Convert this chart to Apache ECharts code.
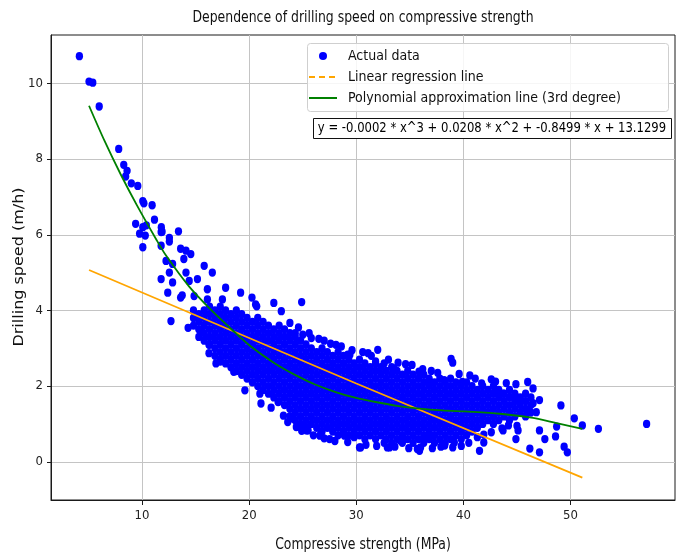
<!DOCTYPE html>
<html><head><meta charset="utf-8">
<script src="https://cdn.jsdelivr.net/npm/echarts@6/dist/echarts.min.js"></script>
<style>html,body{margin:0;padding:0;background:#fff}#c{width:678px;height:553px}</style>
</head><body><div id="c"></div><script>
// ---- data ----
const xTicks = [10, 20, 30, 40, 50];
const yTicks = [0, 2, 4, 6, 8, 10];

// isolated points, left / upper part of the cloud
const sparsePoints = [
[4.15,10.72],[5.05,10.05],[5.4,10.02],[6.0,9.39],[7.82,8.27],[8.29,7.85],[8.6,7.69],[8.47,7.54],[9.0,7.36],[9.6,7.29],
[10.07,6.89],[10.17,6.83],[10.94,6.78],[9.4,6.29],[10.07,6.2],[10.4,6.25],[11.16,6.4],[11.8,6.2],[11.87,6.08],[13.4,6.09],
[9.77,6.03],[10.3,5.98],[12.55,5.92],[11.78,6.07],[10.07,5.67],[11.78,5.71],[12.55,5.82],[13.6,5.63],[14.1,5.58],[14.55,5.49],
[13.9,5.36],[12.24,5.31],[12.85,5.23],[12.55,5.0],[15.8,5.18],[16.56,5.0],[14.1,5.0],[11.78,4.83],[12.85,4.74],[15.17,4.83],
[14.4,4.78],[12.4,4.47],[13.6,4.34],[13.75,4.4],[16.1,4.56],[17.8,4.6],[14.86,4.38],[16.1,4.29],[17.5,4.29],[19.2,4.47],
[20.26,4.34],[20.7,4.11],[20.6,4.16],[22.3,4.2],[23.0,3.98],[24.9,4.22],[23.8,3.67],[12.7,3.72],[14.3,3.54],[15.5,3.45],
[16.25,3.09],[16.25,2.87],[16.9,2.6],[17.3,2.65],[18.56,2.38],[19.6,1.89],[21.0,1.8],[21.1,1.54],[22.05,1.43],[22.7,1.58]
];

// dense core of the cloud: [strength, speed, speed, ...]
const coreColumns = [
[14.8,3.6,3.8,4.0],
[15.3,3.3,3.5,3.7,3.9],
[15.8,3.2,3.4,3.6,3.8,4.0],
[16.3,3.1,3.3,3.5,3.7,3.9,4.1],
[16.8,2.8,3.0,3.2,3.4,3.6,3.8,4.0],
[17.3,2.7,2.9,3.1,3.3,3.5,3.7,3.9,4.1],
[17.8,2.6,2.8,3.0,3.2,3.4,3.6,3.8,4.0],
[18.3,2.5,2.7,2.9,3.1,3.3,3.5,3.7,3.9],
[18.8,2.4,2.6,2.8,3.0,3.2,3.4,3.6,3.8,4.0],
[19.3,2.3,2.5,2.7,2.9,3.1,3.3,3.5,3.7,3.9],
[19.8,2.2,2.4,2.6,2.8,3.0,3.2,3.4,3.6,3.8],
[20.3,2.1,2.3,2.5,2.7,2.9,3.1,3.3,3.5,3.7],
[20.8,2.0,2.2,2.4,2.6,2.8,3.0,3.2,3.4,3.6,3.8],
[21.3,1.9,2.1,2.3,2.5,2.7,2.9,3.1,3.3,3.5,3.7],
[21.8,1.8,2.0,2.2,2.4,2.6,2.8,3.0,3.2,3.4,3.6],
[22.3,1.7,1.9,2.1,2.3,2.5,2.7,2.9,3.1,3.3,3.5],
[22.8,1.6,1.8,2.0,2.2,2.4,2.6,2.8,3.0,3.2,3.4,3.6],
[23.3,1.5,1.7,1.9,2.1,2.3,2.5,2.7,2.9,3.1,3.3,3.5],
[23.8,1.2,1.4,1.6,1.8,2.0,2.2,2.4,2.6,2.8,3.0,3.2,3.4],
[24.3,1.1,1.3,1.5,1.7,1.9,2.1,2.3,2.5,2.7,2.9,3.1,3.3],
[24.8,1.0,1.2,1.4,1.6,1.8,2.0,2.2,2.4,2.6,2.8,3.0,3.2],
[25.3,0.9,1.1,1.3,1.5,1.7,1.9,2.1,2.3,2.5,2.7,2.9,3.1],
[25.8,1.0,1.2,1.4,1.6,1.8,2.0,2.2,2.4,2.6,2.8,3.0],
[26.3,0.9,1.1,1.3,1.5,1.7,1.9,2.1,2.3,2.5,2.7,2.9],
[26.8,0.8,1.0,1.2,1.4,1.6,1.8,2.0,2.2,2.4,2.6,2.8,3.0],
[27.3,0.9,1.1,1.3,1.5,1.7,1.9,2.1,2.3,2.5,2.7,2.9],
[27.8,0.8,1.0,1.2,1.4,1.6,1.8,2.0,2.2,2.4,2.6,2.8],
[28.3,0.7,0.9,1.1,1.3,1.5,1.7,1.9,2.1,2.3,2.5,2.7,2.9],
[28.8,0.8,1.0,1.2,1.4,1.6,1.8,2.0,2.2,2.4,2.6,2.8],
[29.3,0.7,0.9,1.1,1.3,1.5,1.7,1.9,2.1,2.3,2.5,2.7],
[29.8,0.8,1.0,1.2,1.4,1.6,1.8,2.0,2.2,2.4,2.6],
[30.3,0.7,0.9,1.1,1.3,1.5,1.7,1.9,2.1,2.3,2.5,2.7],
[30.8,0.6,0.8,1.0,1.2,1.4,1.6,1.8,2.0,2.2,2.4,2.6],
[31.3,0.7,0.9,1.1,1.3,1.5,1.7,1.9,2.1,2.3,2.5],
[31.8,0.6,0.8,1.0,1.2,1.4,1.6,1.8,2.0,2.2,2.4,2.6],
[32.3,0.7,0.9,1.1,1.3,1.5,1.7,1.9,2.1,2.3,2.5],
[32.8,0.6,0.8,1.0,1.2,1.4,1.6,1.8,2.0,2.2,2.4],
[33.3,0.5,0.7,0.9,1.1,1.3,1.5,1.7,1.9,2.1,2.3,2.5],
[33.8,0.6,0.8,1.0,1.2,1.4,1.6,1.8,2.0,2.2,2.4],
[34.3,0.5,0.7,0.9,1.1,1.3,1.5,1.7,1.9,2.1,2.3],
[34.8,0.6,0.8,1.0,1.2,1.4,1.6,1.8,2.0,2.2,2.4],
[35.3,0.5,0.7,0.9,1.1,1.3,1.5,1.7,1.9,2.1,2.3],
[35.8,0.6,0.8,1.0,1.2,1.4,1.6,1.8,2.0,2.2],
[36.3,0.5,0.7,0.9,1.1,1.3,1.5,1.7,1.9,2.1,2.3],
[36.8,0.6,0.8,1.0,1.2,1.4,1.6,1.8,2.0,2.2],
[37.3,0.5,0.7,0.9,1.1,1.3,1.5,1.7,1.9,2.1],
[37.8,0.6,0.8,1.0,1.2,1.4,1.6,1.8,2.0,2.2],
[38.3,0.5,0.7,0.9,1.1,1.3,1.5,1.7,1.9,2.1],
[38.8,0.6,0.8,1.0,1.2,1.4,1.6,1.8,2.0,2.2],
[39.3,0.7,0.9,1.1,1.3,1.5,1.7,1.9,2.1],
[39.8,0.6,0.8,1.0,1.2,1.4,1.6,1.8,2.0],
[40.3,0.7,0.9,1.1,1.3,1.5,1.7,1.9,2.1],
[40.8,0.8,1.0,1.2,1.4,1.6,1.8,2.0],
[41.3,0.9,1.1,1.3,1.5,1.7,1.9],
[41.8,1.0,1.2,1.4,1.6,1.8,2.0],
[42.3,1.1,1.3,1.5,1.7,1.9],
[42.8,1.0,1.2,1.4,1.6,1.8,2.0],
[43.3,1.1,1.3,1.5,1.7,1.9],
[43.8,1.2,1.4,1.6,1.8],
[44.3,1.1,1.3,1.5,1.7,1.9],
[44.8,1.2,1.4,1.6,1.8],
[45.3,1.3,1.5,1.7],
[45.8,1.2,1.4,1.6,1.8],
[46.3,1.3,1.5,1.7]
];

// points sticking out above the core
const edgeUpper = [
[24.3,3.4],[25.0,3.36],[25.8,3.27],[28.1,3.09],[29.2,2.83],[29.4,2.83],[31.1,2.87],[32.0,2.96],[31.8,2.65],[32.6,2.6],
[33.5,2.47],[35.2,2.56],[35.85,2.38],[36.9,2.07],[38.2,2.16],[38.85,2.72],[39.0,2.62],[39.9,2.11],[24.6,3.55],[25.6,3.4],
[26.5,3.25],[27.0,3.2],[27.6,3.12],[28.6,3.05],[29.6,2.95],[30.6,2.9],[31.4,2.8],[33.0,2.7],[33.9,2.62],[34.6,2.58],
[36.2,2.45],[37.0,2.4],[37.6,2.35],[39.6,2.32],[40.6,2.28],[41.1,2.2],[43.0,2.12],[44.0,2.08],[44.9,2.05]
];

// points sticking out below the core
const edgeLower = [
[24.1,1.14],[24.4,0.92],[25.5,0.83],[26.7,0.74],[27.5,0.6],[28.9,0.69],[30.3,0.38],[33.1,0.38],[34.1,0.56],[35.7,0.34],
[36.3,0.56],[32.9,0.38],[34.4,0.6],[38.2,0.47],[25.35,0.83],[26.6,0.69],[29.8,0.65],[30.4,0.38],[23.2,1.22],[23.6,1.05],
[24.9,0.82],[26.0,0.7],[27.0,0.62],[28.0,0.55],[29.2,0.52],[30.9,0.45],[31.9,0.42],[32.6,0.5],[33.6,0.4],[34.9,0.36],
[36.0,0.38],[37.1,0.36],[37.9,0.4],[39.0,0.38],[39.8,0.42],[40.5,0.5],[41.9,0.72],[42.6,0.78],[43.6,0.88],[45.0,0.95]
];

// right-hand tail
const tailPoints = [
[46.0,2.11],[46.5,1.94],[42.6,2.18],[41.7,2.07],[42.9,1.82],[43.7,1.8],[44.8,1.76],[45.3,1.64],[47.1,1.63],[49.1,1.49],
[46.5,1.55],[45.9,1.36],[46.8,1.31],[50.35,1.15],[48.7,0.93],[51.1,0.96],[52.6,0.87],[57.1,1.0],[47.1,0.83],[47.6,0.6],
[48.6,0.67],[46.2,0.35],[47.1,0.25],[49.4,0.4],[49.7,0.25],[44.9,0.6],[45.1,0.83],[44.2,0.96],[43.7,0.83],[41.5,0.29],
[41.9,0.51],[35.9,0.29],[38.25,0.43],[39.15,0.51],[36.85,0.65],[34.3,0.65],[41.3,0.65]
];

// regression lines
const linearLine = [[5.05,5.07],[30.0,2.07],[51.1,-0.42]];
const polyLine = [[5.05,9.41],[6.5,8.48],[8.0,7.6],[9.5,6.79],[11.3,5.89],[12.24,5.45],[14.4,4.63],[16.56,3.98],[18.4,3.49],
[20.1,3.06],[22.4,2.6],[24.6,2.25],[26.1,2.05],[28.0,1.85],[29.8,1.7],[31.8,1.58],[33.8,1.48],[36.9,1.38],[40.1,1.33],
[43.4,1.27],[46.5,1.16],[48.7,1.02],[51.1,0.87]];

const titleText = 'Dependence of drilling speed on compressive strength';
const xName = 'Compressive strength (MPa)';
const yName = 'Drilling speed (m/h)';
const equationText = 'y = -0.0002 * x^3 + 0.0208 * x^2 + -0.8499 * x + 13.1299';

// ---- chart ----
function expand(cols){const out=[];cols.forEach(c=>{for(let i=1;i<c.length;i++)out.push([c[0],c[i]]);});return out;}
const actualData = sparsePoints.concat(expand(coreColumns), edgeUpper, edgeLower, tailPoints);

const COND = "'DejaVu Sans Condensed','DejaVu Sans',sans-serif";
const DJV = "'DejaVu Sans',sans-serif";
const SQ = 0.83; // horizontal squeeze of the reference texts
const chart = echarts.init(document.getElementById('c'), null, {renderer:'canvas'});
chart.setOption({
  animation:false,
  backgroundColor:'#fff',
  grid:{left:51,top:35,width:624,height:465,show:true,borderColor:'#1a1a1a',borderWidth:1,backgroundColor:'transparent'},
  xAxis:{type:'value',min:1.5,max:59.75,
    axisLine:{onZero:false,lineStyle:{color:'#1a1a1a',width:1}},
    axisTick:{show:true,length:5,customValues:xTicks,lineStyle:{color:'#1a1a1a'}},
    axisLabel:{customValues:xTicks,margin:9,fontFamily:COND,fontSize:13,color:'#222'},
    splitLine:{show:true,lineStyle:{color:'#c4c4c4',width:1}}},
  yAxis:{type:'value',min:-1.01,max:11.28,
    axisLine:{onZero:false,lineStyle:{color:'#1a1a1a',width:1}},
    axisTick:{show:true,length:4,customValues:yTicks,lineStyle:{color:'#1a1a1a'}},
    axisLabel:{customValues:yTicks,margin:8,fontFamily:COND,fontSize:13,color:'#222'},
    splitLine:{show:true,lineStyle:{color:'#c4c4c4',width:1}}},
  legend:{orient:'vertical',left:307,top:43,padding:[5,10,5,1],itemGap:5,itemWidth:28,itemHeight:8,z:6,
    textStyle:{fontFamily:COND,fontSize:14,lineHeight:16,color:'#111',padding:[0,0,0,6]},
    data:[{name:'Actual data',icon:'circle'},
          {name:'Linear regression line',lineStyle:{type:[6,4],width:2},itemStyle:{opacity:0}},
          {name:'Polynomial approximation line (3rd degree)',lineStyle:{width:2},itemStyle:{opacity:0}}]},
  graphic:[
    {type:'text',x:363,y:18,scaleX:SQ,z:6,
     style:{text:titleText,font:'15px '+DJV,fill:'#111',align:'center',verticalAlign:'middle'}},
    {type:'text',x:363,y:545,scaleX:SQ,z:6,
     style:{text:xName,font:'15px '+DJV,fill:'#111',align:'center',verticalAlign:'middle'}},
    {type:'text',x:20,y:267,rotation:Math.PI/2,scaleY:SQ,z:6,
     style:{text:yName,font:'16px '+DJV,fill:'#111',align:'center',verticalAlign:'middle'}},
    {type:'rect',left:307,top:43,z:3,shape:{width:361,height:68,r:3},
     style:{fill:'rgba(255,255,255,0.85)',stroke:'#cfcfcf',lineWidth:1}},
    {type:'rect',left:313,top:118,z:5,shape:{width:358,height:20},
     style:{fill:'#fff',stroke:'#111',lineWidth:1}},
    {type:'text',x:492,y:128.5,scaleX:SQ,z:6,
     style:{text:equationText,font:'14px '+DJV,fill:'#000',align:'center',verticalAlign:'middle'}}
  ],
  series:[
    {name:'Actual data',type:'scatter',data:actualData,symbol:'circle',symbolSize:[7.3,8.3],itemStyle:{color:'#0000ff',opacity:1},z:2},
    {name:'Linear regression line',type:'line',data:linearLine,symbol:'none',showSymbol:false,
     lineStyle:{color:'#ffa500',width:1.8},itemStyle:{color:'#ffa500'},z:3},
    {name:'Polynomial approximation line (3rd degree)',type:'line',data:polyLine,symbol:'none',showSymbol:false,smooth:0.3,
     lineStyle:{color:'#008000',width:1.8},itemStyle:{color:'#008000'},z:4}
  ]
});
</script></body></html>
